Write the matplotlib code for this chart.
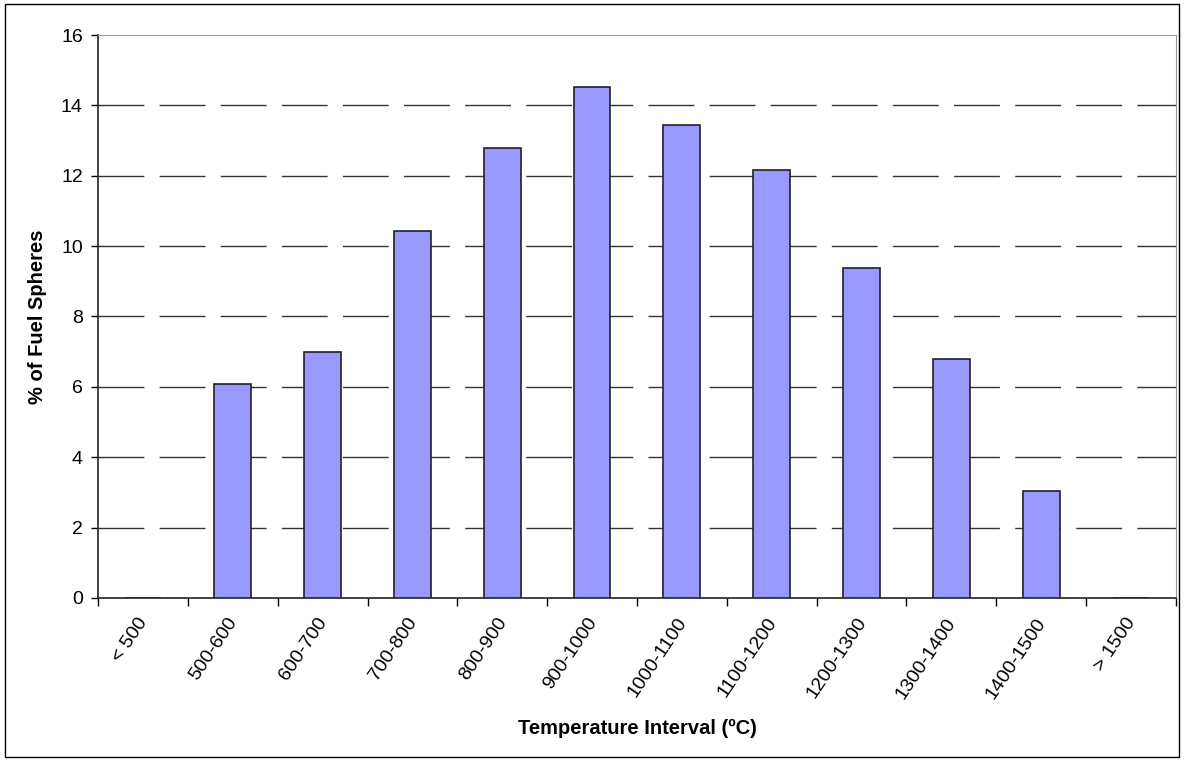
import matplotlib
matplotlib.use('Agg')
import matplotlib.pyplot as plt
import matplotlib.transforms as mtransforms
import numpy as np

# %%
intervalos = ['< 500', '500-600', '600-700', '700-800', '800-900', '900-1000',
              '1000-1100', '1100-1200', '1200-1300', '1300-1400', '1400-1500',
              '> 1500']
porcentaje = [0, 6.08, 6.99, 10.43, 12.79, 14.52, 13.44, 12.16, 9.38, 6.79,
              3.04, 0]
yticks = [0, 2, 4, 6, 8, 10, 12, 14, 16]

plt.rcParams['font.family'] = ['Liberation Sans', 'DejaVu Sans']

# %%
fig = plt.figure(figsize=(11.84, 7.61), dpi=100)
ax = fig.add_axes([0.0828, 0.2142, 0.9104, 0.7398])

x = np.arange(len(intervalos))
ax.bar(x, porcentaje, width=0.41, color='#9999ff', edgecolor='#222222',
       linewidth=1.2, zorder=3)

ax.set_xlim(-0.5, len(intervalos) - 0.5)
ax.set_ylim(0, 16)
ax.set_yticks(yticks)
ax.set_yticklabels([str(v) for v in yticks], fontsize=14)
for v in yticks[1:-1]:
    ax.axhline(v, color='#333333', lw=1, dashes=(33, 11), zorder=1)

ax.set_xticks(x)
ax.set_xticklabels(intervalos, rotation=56, ha='right', va='top',
                   rotation_mode='anchor', fontsize=14)
ax.tick_params(axis='x', length=0, pad=12)
desplaz = mtransforms.ScaledTranslation(-6 / 100, 0, fig.dpi_scale_trans)
for lbl in ax.get_xticklabels():
    lbl.set_transform(lbl.get_transform() + desplaz)
ax.set_xticks(np.arange(len(intervalos) + 1) - 0.5, minor=True)
ax.tick_params(axis='x', which='minor', length=6, direction='out', width=1)
ax.tick_params(axis='y', length=5, direction='out', width=1, pad=6)

for s in ['top', 'right']:
    ax.spines[s].set_color('#999999')
for s in ['left', 'bottom']:
    ax.spines[s].set_color('#222222')
    ax.spines[s].set_linewidth(1.2)

ax.set_ylabel('% of Fuel Spheres', fontsize=14.5, fontweight='bold', labelpad=10)
ax.set_xlabel('Temperature Interval (ºC)', fontsize=14.5, fontweight='bold',
              labelpad=12)

fig.patches.append(plt.Rectangle((0.004, 0.005), 0.992, 0.99,
                                 transform=fig.transFigure, fill=False,
                                 edgecolor='black', lw=1))
fig.savefig('out.png', dpi=100)
